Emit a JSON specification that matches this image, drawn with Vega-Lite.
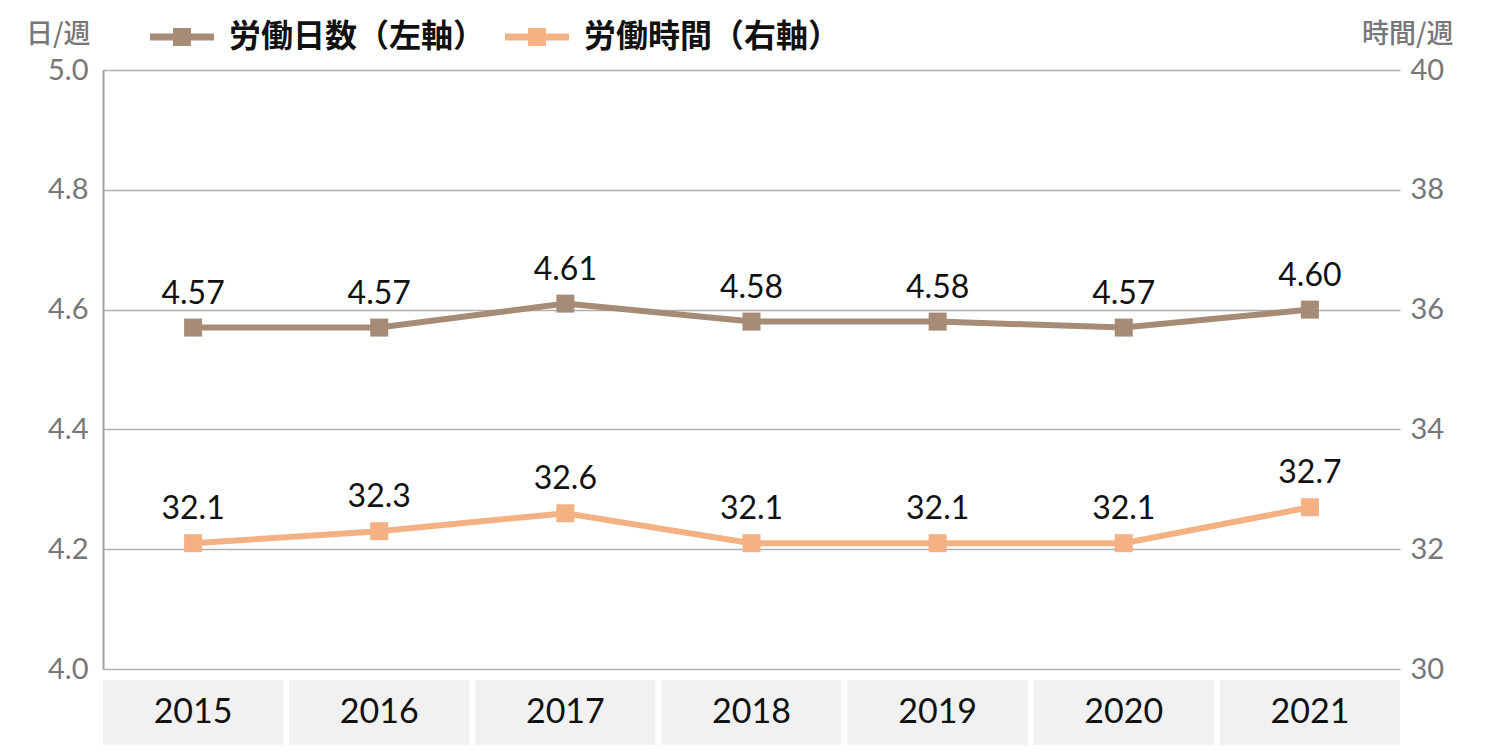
{
  "$schema": "https://vega.github.io/schema/vega-lite/v6.json",
  "autosize": {"type": "pad"},
  "padding": {"left": 25, "top": 5, "right": 0, "bottom": 0},
  "background": "white",
  "config": {
    "view": {"stroke": null},
    "font": "Lato",
    "axis": {"labelFont": "Lato", "titleFont": "Noto Sans CJK JP"}
  },
  "data": {
    "values": [
      {"year": "2015", "series": "労働日数（左軸）", "value": 4.57},
      {"year": "2016", "series": "労働日数（左軸）", "value": 4.57},
      {"year": "2017", "series": "労働日数（左軸）", "value": 4.61},
      {"year": "2018", "series": "労働日数（左軸）", "value": 4.58},
      {"year": "2019", "series": "労働日数（左軸）", "value": 4.58},
      {"year": "2020", "series": "労働日数（左軸）", "value": 4.57},
      {"year": "2021", "series": "労働日数（左軸）", "value": 4.60},
      {"year": "2015", "series": "労働時間（右軸）", "value": 32.1},
      {"year": "2016", "series": "労働時間（右軸）", "value": 32.3},
      {"year": "2017", "series": "労働時間（右軸）", "value": 32.6},
      {"year": "2018", "series": "労働時間（右軸）", "value": 32.1},
      {"year": "2019", "series": "労働時間（右軸）", "value": 32.1},
      {"year": "2020", "series": "労働時間（右軸）", "value": 32.1},
      {"year": "2021", "series": "労働時間（右軸）", "value": 32.7}
    ]
  },
  "bounds": "flush",
  "spacing": 11,
  "vconcat": [
    {
      "width": 1297,
      "height": 599,
      "encoding": {
        "x": {"field": "year", "type": "nominal", "scale": {"type": "band", "paddingInner": 0.032, "paddingOuter": 0}, "axis": null},
        "color": {
          "field": "series",
          "type": "nominal",
          "scale": {"domain": ["労働日数（左軸）", "労働時間（右軸）"], "range": ["#A68B77", "#F4B184"]},
          "legend": {
            "title": null,
            "orient": "none",
            "direction": "horizontal",
            "legendX": 47,
            "legendY": -65,
            "symbolType": "M-1,-0.11H1V0.11H-1Z M-0.28,-0.28H0.28V0.28H-0.28Z",
            "symbolSize": 4096,
            "symbolStrokeWidth": 0,
            "symbolOpacity": 1,
            "labelFont": "Noto Sans CJK JP",
            "labelFontWeight": "bold",
            "labelFontSize": 32,
            "labelColor": "#111111",
            "labelOffset": 15,
            "columnPadding": 19,
            "labelLimit": 400,
            "encode": {
              "symbols": {"update": {"fill": {"scale": "color", "field": "value"}, "fillOpacity": {"value": 1}, "stroke": {"value": "transparent"}}}
            }
          }
        }
      },
      "layer": [
        {
          "transform": [{"filter": "datum.series === '労働日数（左軸）'"}],
          "encoding": {
            "y": {
              "field": "value",
              "type": "quantitative",
              "scale": {"domain": [4, 5], "nice": false, "zero": false},
              "axis": {
                "orient": "left",
                "values": [4.0, 4.2, 4.4, 4.6, 4.8, 5.0],
                "format": ".1f",
                "grid": true,
                "gridColor": "#b0b0b0",
                "gridWidth": 1.5,
                "domain": true,
                "domainColor": "#a0a0a0",
                "domainWidth": 2,
                "ticks": false,
                "labelPadding": 15,
                "labelFontSize": 29,
                "labelColor": "#777777",
                "title": "日/週",
                "titleAngle": 0,
                "titleX": -13,
                "titleY": -36,
                "titleAlign": "right",
                "titleBaseline": "middle",
                "titleFontSize": 27,
                "titleFontWeight": 500,
                "titleColor": "#777777"
              }
            }
          },
          "layer": [
            {"mark": {"type": "line", "strokeWidth": 6}},
            {"mark": {"type": "point", "shape": "square", "filled": true, "size": 324, "opacity": 1}},
            {
              "mark": {"type": "text", "baseline": "bottom", "dy": -17, "fontSize": 32, "font": "Lato"},
              "encoding": {"text": {"field": "value", "type": "quantitative", "format": ".2f"}, "color": {"value": "#111111"}}
            }
          ]
        },
        {
          "transform": [{"filter": "datum.series === '労働時間（右軸）'"}],
          "encoding": {
            "y": {
              "field": "value",
              "type": "quantitative",
              "scale": {"domain": [30, 40], "nice": false, "zero": false},
              "axis": {
                "orient": "right",
                "values": [30, 32, 34, 36, 38, 40],
                "format": "d",
                "grid": false,
                "domain": false,
                "ticks": false,
                "labelPadding": 10,
                "labelFontSize": 29,
                "labelColor": "#777777",
                "title": "時間/週",
                "titleAngle": 0,
                "titleX": 53,
                "titleY": -36,
                "titleAlign": "right",
                "titleBaseline": "middle",
                "titleFontSize": 27,
                "titleFontWeight": 500,
                "titleColor": "#777777"
              }
            }
          },
          "layer": [
            {"mark": {"type": "line", "strokeWidth": 6}},
            {"mark": {"type": "point", "shape": "square", "filled": true, "size": 324, "opacity": 1}},
            {
              "mark": {"type": "text", "baseline": "bottom", "dy": -17, "fontSize": 32, "font": "Lato"},
              "encoding": {"text": {"field": "value", "type": "quantitative", "format": ".1f"}, "color": {"value": "#111111"}}
            }
          ]
        }
      ],
      "resolve": {"scale": {"y": "independent"}}
    },
    {
      "width": 1297,
      "height": 65,
      "transform": [{"filter": "datum.series === '労働日数（左軸）'"}],
      "encoding": {
        "x": {"field": "year", "type": "nominal", "scale": {"type": "band", "paddingInner": 0.032, "paddingOuter": 0}, "axis": null}
      },
      "layer": [
        {"mark": {"type": "rect", "color": "#f1f1f1"}},
        {
          "mark": {"type": "text", "fontSize": 34, "font": "Lato", "color": "#111111", "baseline": "middle"},
          "encoding": {"text": {"field": "year", "type": "nominal"}}
        }
      ]
    }
  ]
}
